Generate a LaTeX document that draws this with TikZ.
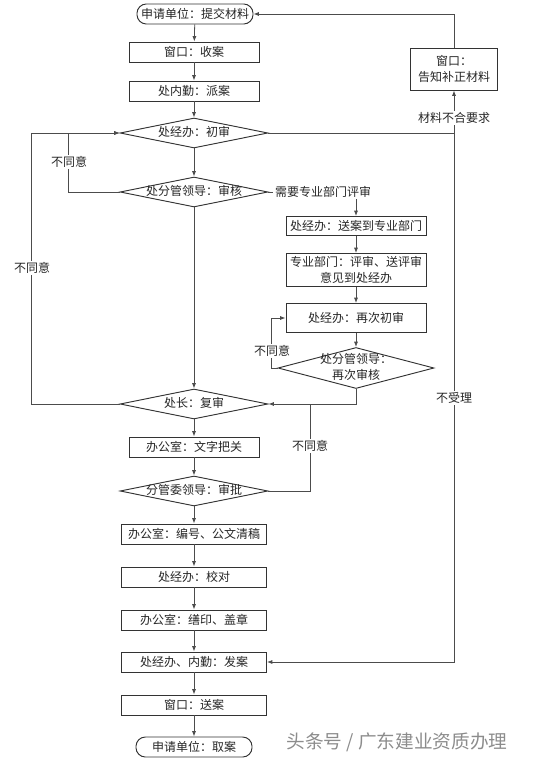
\documentclass[tikz,border=0pt]{standalone}
\usepackage{fontspec}
\newfontfamily\cjk{Noto Sans CJK SC}
\usetikzlibrary{shapes.geometric,arrows.meta}
\newcommand{\dtext}[1]{\makebox[0pt]{\begin{tabular}{@{}c@{}}#1\end{tabular}}}
\begin{document}
\begin{tikzpicture}[x=0.75pt,y=-0.75pt,
		txt/.style={font=\cjk\fontsize{9}{12}\selectfont,text=black!85},
		line/.style={draw=black!70,line width=0.6pt},
		arr/.style={line,-{Latex[length=4pt,width=3pt]}},
		proc/.style={txt,draw=black!80,line width=0.7pt,fill=white,minimum width=97.5pt,minimum height=15pt,inner sep=1pt,align=center},
		wide/.style={proc,minimum width=108.75pt},
		term/.style={proc,rounded corners=7pt,minimum width=87pt},
		decide/.style={txt,diamond,draw=black!80,line width=0.7pt,fill=white,inner sep=0pt,minimum width=111pt,minimum height=22.5pt},
		lbl/.style={txt,fill=white,inner sep=1pt}]
	\useasboundingbox (0,0) rectangle (547,759);
	% main column
	\node[term] (start) at (195,14) {申请单位：提交材料};
	\node[proc] (recv) at (194,52) {窗口：收案};
	\node[proc] (assign) at (194,91) {处内勤：派案};
	\node[decide] (check1) at (194,133) {\dtext{处经办：初审}};
	\node[decide] (review1) at (194,192) {\dtext{处分管领导：审核}};
	\node[decide] (chief) at (194,404) {\dtext{处长：复审}};
	\node[proc] (text) at (194,447) {办公室：文字把关};
	\node[decide] (approve) at (194,491) {\dtext{分管委领导：审批}};
	\node[wide] (number) at (194,534) {办公室：编号、公文清稿};
	\node[wide] (proof) at (194,577) {处经办：校对};
	\node[wide] (print) at (194,620) {办公室：缮印、盖章};
	\node[wide] (issue) at (194,662) {处经办、内勤：发案};
	\node[wide] (deliver) at (194,705) {窗口：送案};
	\node[term] (finish) at (194,747) {申请单位：取案};
	% expert review branch
	\node[txt,inner sep=1pt] (need) at (323,192) {需要专业部门评审};
	\node[proc,minimum width=105pt,minimum height=14.25pt] (send) at (356,226) {处经办：送案到专业部门};
	\node[proc,minimum width=105pt,minimum height=24.75pt,inner sep=0pt] (dept) at (356,270) {专业部门：评审、送评审\\意见到处经办};
	\node[proc,minimum width=105pt,minimum height=21.75pt] (check2) at (356,318) {处经办：再次初审};
	\node[decide,minimum width=117pt,minimum height=30.75pt] (review2) at (356,368) {\dtext{处分管领导：\\再次审核}};
	% supplement box
	\node[proc,minimum width=65.25pt,minimum height=31.5pt] (notify) at (454,69) {窗口：\\告知补正材料};
	\coordinate (rt) at (454,133);
	\coordinate (join) at (310,404);
	% arrows
	\foreach \a/\b in {start/recv,recv/assign,assign/check1,check1/review1,review1/chief,chief/text,text/approve,approve/number,number/proof,proof/print,print/issue,issue/deliver,deliver/finish,send/dept,dept/check2,check2/review2}
		\draw[arr] (\a) -- (\b);
	\draw[arr] (review1.west) -- ++(-51,0) |- (check1.west);
	\draw[arr] (chief.west) -- ++(-88,0) |- (check1.west);
	\draw[line] (check1.east) -- (rt);
	\draw[arr] (rt) -- (notify.south);
	\draw[arr] (rt) |- (issue.east);
	\draw[arr] (notify.north) |- (start.east);
	\draw[line] (review1.east) -- (need.west);
	\draw[arr] (need.south -| send.north) -- (send.north);
	\draw[arr] (review2.west) -- ++(-6,0) |- (check2.west);
	\draw[arr] (review2.south) |- (chief.east);
	\draw[line] (approve.east) -| (join);
	% labels
	\node[lbl] (no1) at (69,162) {不同意};
	\node[lbl] (no2) at (32,268) {不同意};
	\node[lbl] (no3) at (272,351) {不同意};
	\node[lbl] (no4) at (310,446) {不同意};
	\node[lbl] (bad) at (454,118) {材料不合要求};
	\node[lbl] (reject) at (454,398) {不受理};
	% watermark
	\node[font=\cjk\fontsize{14}{16}\selectfont,text=black!45] (mark) at (397,742) {头条号 / 广东建业资质办理};
\end{tikzpicture}
\end{document}
